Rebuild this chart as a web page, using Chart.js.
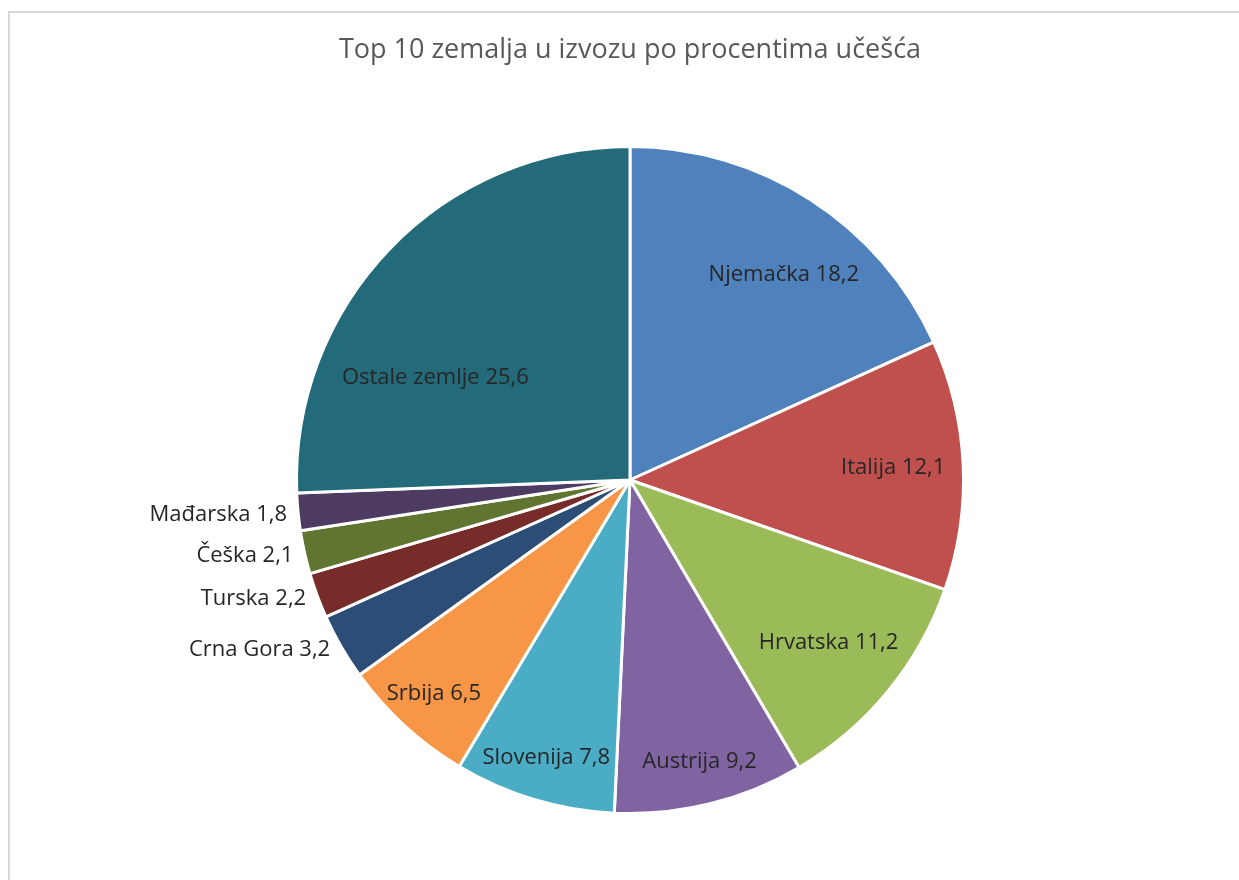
<!DOCTYPE html>
<html>
<head>
<meta charset="utf-8">
<script src="https://cdn.jsdelivr.net/npm/chart.js@4.4.1/dist/chart.umd.min.js"></script>
<style>
  html, body { margin: 0; padding: 0; background: #ffffff; }
  #wrap { position: relative; width: 1239px; height: 880px; overflow: hidden; }
  #frame { position: absolute; left: 8px; top: 11px; width: 1260px; height: 900px; border: 2px solid #d9d9d9; box-sizing: border-box; }
  canvas { position: absolute; left: 0; top: 0; }
</style>
</head>
<body>
<div id="wrap">
  <div id="frame"></div>
  <canvas id="c" width="1239" height="880"></canvas>
</div>
<script>
const chartTitle = 'Top 10 zemalja u izvozu po procentima učešća';
const categories = ['Njemačka', 'Italija', 'Hrvatska', 'Austrija', 'Slovenija', 'Srbija', 'Crna Gora', 'Turska', 'Češka', 'Mađarska', 'Ostale zemlje'];
const shares = [18.2, 12.1, 11.2, 9.2, 7.8, 6.5, 3.2, 2.2, 2.1, 1.8, 25.6];
const sliceColors = ['#4F81BD', '#C0504D', '#9BBB59', '#8064A2', '#4BACC6', '#F79646', '#2C4D75', '#772C2A', '#5F7530', '#4D3B62', '#236B7A'];
// label placement: 'in' = inside at radial fraction, 'out' = outside, left of slice
const labelMode = ['in', 'in', 'in', 'in', 'in', 'in', 'out', 'out', 'out', 'out', 'in'];
const labelRadius = [0.77, 0.79, 0.77, 0.87, 0.87, 0.87, 1, 1, 1, 1, 0.66];
const labelAngleShift = [0.07, 0, 0, 0, 0, 0, 0, 0, 0, 0, -0.28];

const fmt = v => String(v).replace('.', ',');

const labelPlugin = {
  id: 'sliceLabels',
  afterDraw(chart) {
    const ctx = chart.ctx;
    ctx.save();
    // title
    ctx.fillStyle = '#595959';
    ctx.font = '27px "Open Sans", "Noto Sans", sans-serif';
    ctx.textAlign = 'center';
    ctx.textBaseline = 'middle';
    ctx.fillText(chartTitle, 630, 50);

    const meta = chart.getDatasetMeta(0);
    ctx.font = '22px "Open Sans", "Noto Sans", sans-serif';
    ctx.fillStyle = '#262626';
    meta.data.forEach((arc, i) => {
      const p = arc.getProps(['x', 'y', 'startAngle', 'endAngle', 'outerRadius'], true);
      const mid = (p.startAngle + p.endAngle) / 2 + labelAngleShift[i];
      const text = categories[i] + ' ' + fmt(shares[i]);
      if (labelMode[i] === 'in') {
        const r = p.outerRadius * labelRadius[i];
        ctx.textAlign = 'center';
        ctx.fillText(text, p.x + Math.cos(mid) * r, p.y + Math.sin(mid) * r);
      } else {
        const r = p.outerRadius;
        ctx.textAlign = 'right';
        ctx.fillText(text, p.x + Math.cos(mid) * r - 11, p.y + Math.sin(mid) * r + 3);
      }
    });
    ctx.restore();
  }
};

new Chart(document.getElementById('c'), {
  type: 'pie',
  data: {
    labels: categories,
    datasets: [{
      data: shares,
      backgroundColor: sliceColors,
      borderColor: '#ffffff',
      borderWidth: 3,
      hoverOffset: 0
    }]
  },
  options: {
    responsive: false,
    animation: false,
    layout: { padding: { left: 295, right: 274, top: 145, bottom: 65 } },
    plugins: {
      legend: { display: false },
      title: { display: false },
      tooltip: { enabled: false }
    }
  },
  plugins: [labelPlugin]
});
</script>
</body>
</html>
